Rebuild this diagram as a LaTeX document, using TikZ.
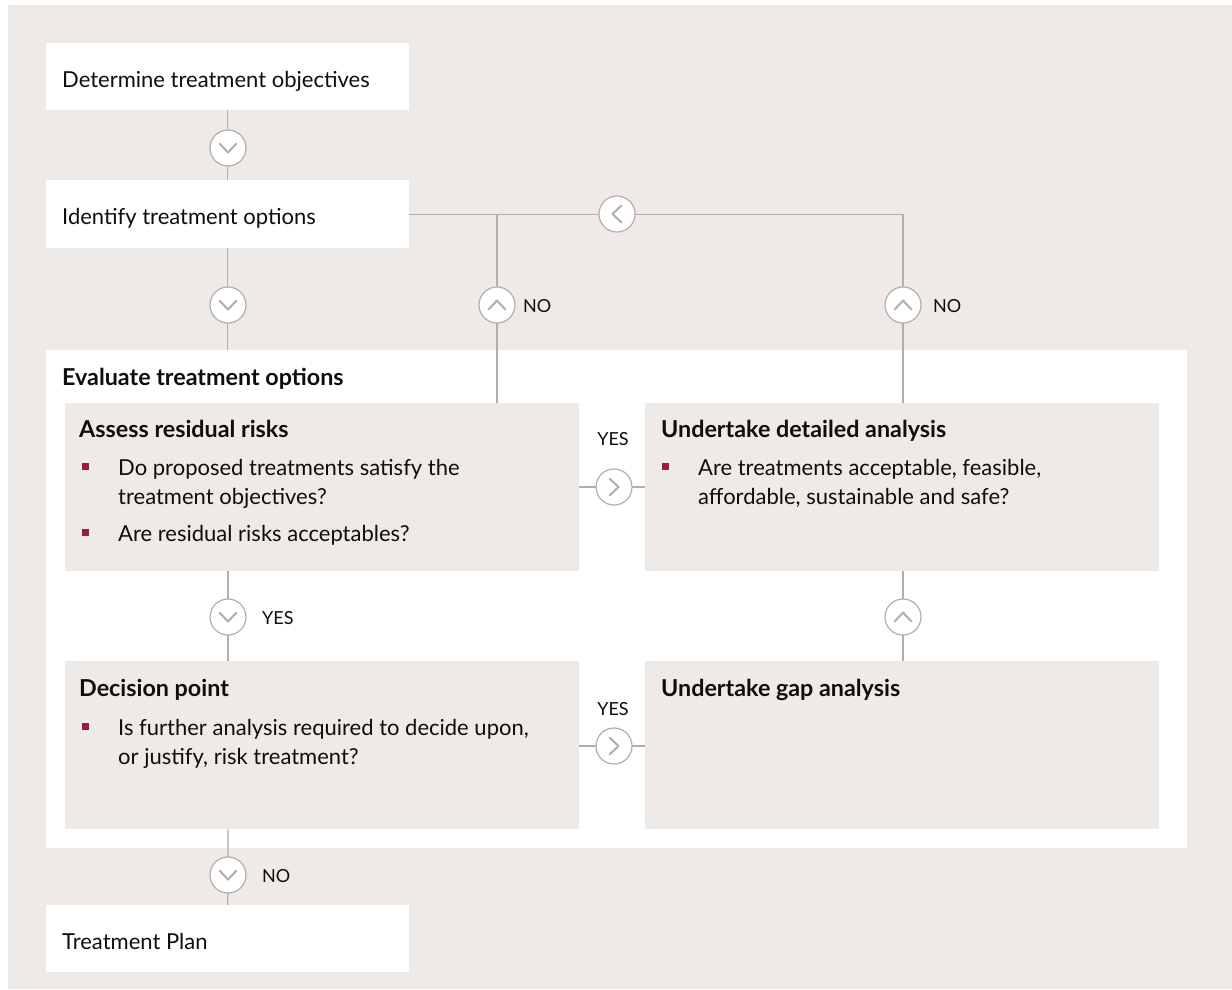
\documentclass[tikz,border=0pt]{standalone}
\usepackage{fontspec}
\setmainfont{Lato}
\definecolor{bg}{HTML}{EEEAE7}
\definecolor{ln}{HTML}{B8ACAA}
\definecolor{bul}{HTML}{9E1B3E}
\definecolor{ink}{HTML}{0E0E0E}
\tikzset{
  whitebox/.style={fill=white, draw=none, inner sep=0, anchor=north west},
  graybox/.style={fill=bg, draw=none, inner sep=0, anchor=north west},
  conn/.style={draw=ln, line width=1.2pt},
  chev/.style={circle, fill=white, draw=ln, line width=1.2pt, minimum size=36pt, inner sep=0},
  chevline/.style={draw=ln, line width=2pt, line cap=round, line join=round},
  cdown/.style={chev, path picture={\draw[chevline] ([shift={(-8.5pt,4.5pt)}]path picture bounding box.center) -- ++(8.5pt,-9pt) -- ++(8.5pt,9pt);}},
  cup/.style={chev, path picture={\draw[chevline] ([shift={(-8.5pt,-4.5pt)}]path picture bounding box.center) -- ++(8.5pt,9pt) -- ++(8.5pt,-9pt);}},
  cleft/.style={chev, path picture={\draw[chevline] ([shift={(4.5pt,8.5pt)}]path picture bounding box.center) -- ++(-9pt,-8.5pt) -- ++(9pt,-8.5pt);}},
  cright/.style={chev, path picture={\draw[chevline] ([shift={(-4.5pt,8.5pt)}]path picture bounding box.center) -- ++(9pt,-8.5pt) -- ++(-9pt,-8.5pt);}},
  txt/.style={anchor=base west, inner sep=0, text=ink, font=\fontsize{22}{26}\selectfont},
  ttl/.style={txt, font=\bfseries\fontsize{23.3}{27}\selectfont},
  lbl/.style={anchor=base west, inner sep=0, text=ink, font=\fontsize{18}{22}\selectfont},
  lblc/.style={lbl, anchor=base},
  bullet/.style={fill=bul, minimum size=7pt, inner sep=0},
}
\begin{document}
\begin{tikzpicture}[x=1pt,y=-1pt]
\useasboundingbox (0,0) rectangle (1232,989);
\fill[bg] (8,5) rectangle (1232,989);

% boxes
\node[whitebox, minimum width=363pt, minimum height=67pt] (obj) at (46,43) {};
\node[whitebox, minimum width=363pt, minimum height=68pt] (idt) at (46,180) {};
\node[whitebox, minimum width=1141pt, minimum height=498pt] (panel) at (46,350) {};
\node[graybox, minimum width=514pt, minimum height=168pt] (assess) at (65,403) {};
\node[graybox, minimum width=514pt, minimum height=168pt] (detail) at (645,403) {};
\node[graybox, minimum width=514pt, minimum height=168pt] (decision) at (65,661) {};
\node[graybox, minimum width=514pt, minimum height=168pt] (gap) at (645,661) {};
\node[whitebox, minimum width=363pt, minimum height=67pt] (plan) at (46,905) {};

% circle marker positions
\coordinate (p1) at (228,148);
\coordinate (p2) at (228,305);
\coordinate (p3) at (617,214);
\coordinate (p4) at (497,305);
\coordinate (p5) at (903,305);
\coordinate (p6) at (614,487);
\coordinate (p7) at (228,617);
\coordinate (p8) at (903,617);
\coordinate (p9) at (614,746);
\coordinate (p10) at (228,875);

% connectors
\draw[conn] (obj.south) -- (idt.north);
\draw[conn] (idt.south) -- (idt.south |- panel.north);
\draw[conn] (idt.east) -- (p5 |- idt.east) -- (p5 |- detail.north);
\draw[conn] (p4 |- idt.east) -- (p4 |- assess.north);
\draw[conn] (assess.east |- p6) -- (detail.west |- p6);
\draw[conn] (p7 |- assess.south) -- (p7 |- decision.north);
\draw[conn] (p8 |- gap.north) -- (p8 |- detail.south);
\draw[conn] (decision.east |- p9) -- (gap.west |- p9);
\draw[conn] (p10 |- decision.south) -- (plan.north);

% markers
\node[cdown] (c1) at (p1) {};
\node[cdown] (c2) at (p2) {};
\node[cleft] (c3) at (p3) {};
\node[cup] (c4) at (p4) {};
\node[cup] (c5) at (p5) {};
\node[cright] (c6) at (p6) {};
\node[cdown] (c7) at (p7) {};
\node[cup] (c8) at (p8) {};
\node[cright] (c9) at (p9) {};
\node[cdown] (c10) at (p10) {};

% labels
\node[lbl] (n1) at (523,312) {NO};
\node[lbl] (n2) at (933,312) {NO};
\node[lblc] (y1) at (613,445) {YES};
\node[lbl] (y2) at (262,624) {YES};
\node[lblc] (y3) at (613,715) {YES};
\node[lbl] (n3) at (262,882) {NO};

% texts
\node[txt] (t1) at (62,87) {Determine treatment objectives};
\node[txt] (t2) at (62,224) {Identify treatment options};
\node[ttl] (t3) at (62,385) {Evaluate treatment options};
\node[ttl] (t4) at (79,437) {Assess residual risks};
\node[bullet] (b1) at (85.5,466) {};
\node[txt] (t5) at (118,475) {Do proposed treatments satisfy the};
\node[txt] (t6) at (118,504) {treatment objectives?};
\node[bullet] (b2) at (85.5,532) {};
\node[txt] (t7) at (118,541) {Are residual risks acceptables?};
\node[ttl] (t8) at (661,437) {Undertake detailed analysis};
\node[bullet] (b3) at (665,466) {};
\node[txt] (t9) at (698,475) {Are treatments acceptable, feasible,};
\node[txt] (t10) at (698,504) {affordable, sustainable and safe?};
\node[ttl] (t11) at (79,696) {Decision point};
\node[bullet] (b4) at (85.5,726) {};
\node[txt] (t12) at (118,735) {Is further analysis required to decide upon,};
\node[txt] (t13) at (118,764) {or justify, risk treatment?};
\node[ttl] (t14) at (661,696) {Undertake gap analysis};
\node[txt] (t15) at (62,949) {Treatment Plan};
\end{tikzpicture}
\end{document}
